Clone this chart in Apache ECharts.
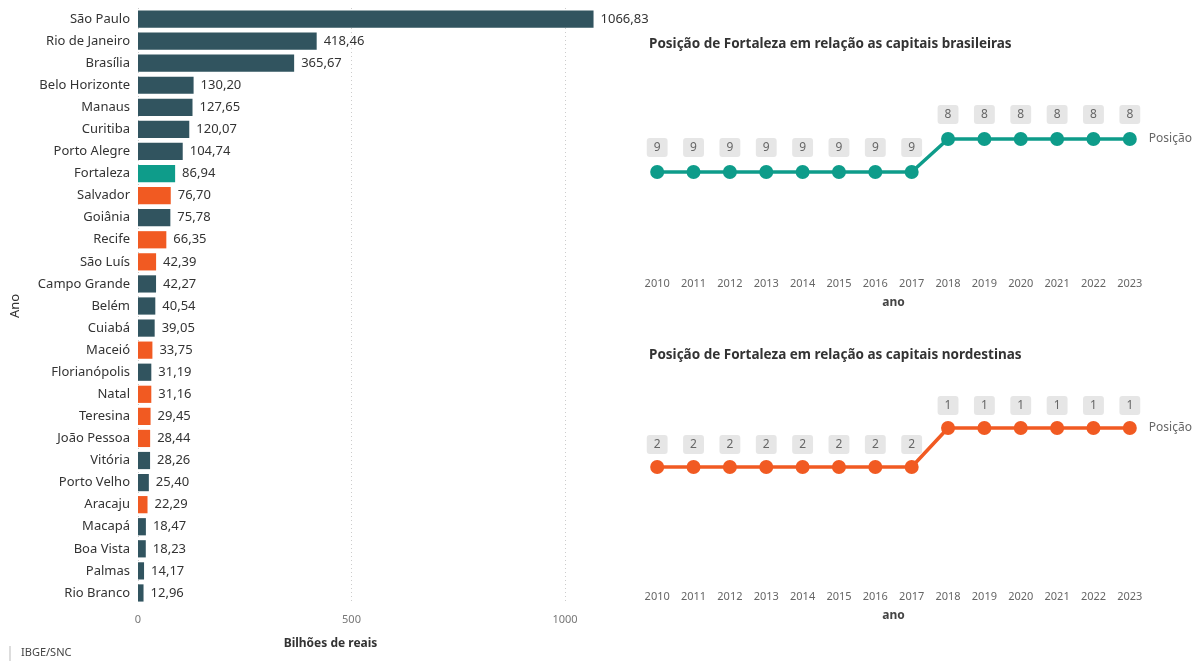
<!DOCTYPE html>
<html><head><meta charset="utf-8">
<script src="https://cdn.jsdelivr.net/npm/echarts@6/dist/echarts.min.js"></script>
<style>html,body{margin:0;padding:0;background:#fff}#c{width:1197px;height:661px}</style>
</head><body><div id="c"></div>
<script>
const cities = ['São Paulo','Rio de Janeiro','Brasília','Belo Horizonte','Manaus','Curitiba','Porto Alegre','Fortaleza','Salvador','Goiânia','Recife','São Luís','Campo Grande','Belém','Cuiabá','Maceió','Florianópolis','Natal','Teresina','João Pessoa','Vitória','Porto Velho','Aracaju','Macapá','Boa Vista','Palmas','Rio Branco'];
const pib = [1066.83,418.46,365.67,130.20,127.65,120.07,104.74,86.94,76.70,75.78,66.35,42.39,42.27,40.54,39.05,33.75,31.19,31.16,29.45,28.44,28.26,25.40,22.29,18.47,18.23,14.17,12.96];
const region = ['outra','outra','outra','outra','outra','outra','outra','fortaleza','nordeste','outra','nordeste','nordeste','outra','outra','outra','nordeste','outra','nordeste','nordeste','nordeste','outra','outra','nordeste','outra','outra','outra','outra'];
const years = ['2010','2011','2012','2013','2014','2015','2016','2017','2018','2019','2020','2021','2022','2023'];
const rankBrasil = [9,9,9,9,9,9,9,9,8,8,8,8,8,8];
const rankNordeste = [2,2,2,2,2,2,2,2,1,1,1,1,1,1];
const xTicks = [0,500,1000];

const colors = {outra:'#31545F', fortaleza:'#0E9C8A', nordeste:'#F15A22'};
const FONT = '"Noto Sans", "Open Sans", sans-serif';
const fmt = v => v.toFixed(2).replace('.', ',');

const lineLabel = (dist) => ({
  show:true, position:'top', distance:dist, color:'#666', fontSize:12, fontFamily:FONT,
  backgroundColor:'#E6E6E6', padding:[4,7,3,7], borderRadius:3
});
const endLabel = {show:true, formatter:'Posição', color:'#666', fontSize:12, fontFamily:FONT, distance:19};
const catX = (gi) => ({
  type:'category', gridIndex:gi, data:years, boundaryGap:true,
  axisLine:{show:false}, axisTick:{show:false},
  axisLabel:{color:'#666', fontSize:11, fontFamily:FONT, margin:7},
  name:'ano', nameLocation:'middle', nameGap:26,
  nameTextStyle:{color:'#444', fontSize:12, fontWeight:'bold', fontFamily:FONT}
});

const chart = echarts.init(document.getElementById('c'));
chart.setOption({
  animation:false,
  textStyle:{fontFamily:FONT},
  title:[
    {text:'Posição de Fortaleza em relação as capitais brasileiras', left:644, top:32,
     textStyle:{fontSize:13.5, fontWeight:'bold', color:'#333', fontFamily:FONT}},
    {text:'Posição de Fortaleza em relação as capitais nordestinas', left:644, top:343,
     textStyle:{fontSize:13.5, fontWeight:'bold', color:'#333', fontFamily:FONT}}
  ],
  grid:[
    {left:138, top:8, width:427, height:596},
    {left:639, top:106, width:509, height:165},
    {left:639, top:389, width:509, height:195}
  ],
  xAxis:[
    {type:'value', gridIndex:0, min:0, max:1000, interval:500,
     axisLine:{show:false}, axisTick:{show:false},
     axisLabel:{color:'#777', fontSize:11, margin:10, fontFamily:FONT,
       formatter: v => xTicks.includes(v) ? String(v) : ''},
     splitLine:{show:true, lineStyle:{type:[1,3], color:'#ccc'}},
     name:'Bilhões de reais', nameLocation:'middle', nameGap:34,
     nameTextStyle:{color:'#333', fontSize:12, fontWeight:'bold', fontFamily:FONT, padding:[0,42,0,0]}},
    catX(1), catX(2)
  ],
  yAxis:[
    {type:'category', gridIndex:0, data:cities, inverse:true,
     axisLine:{show:false}, axisTick:{show:false},
     axisLabel:{color:'#333', fontSize:13, margin:8, fontFamily:FONT},
     name:'Ano', nameLocation:'middle', nameGap:116, nameRotate:90,
     nameTextStyle:{color:'#333', fontSize:13, fontFamily:FONT}},
    {type:'value', gridIndex:1, min:7, max:12, inverse:true, show:false},
    {type:'value', gridIndex:2, min:0, max:5, inverse:true, show:false}
  ],
  series:[
    {type:'bar', xAxisIndex:0, yAxisIndex:0, data:pib, barCategoryGap:'22%', clip:false,
     itemStyle:{color: p => colors[region[p.dataIndex]]},
     label:{show:true, position:'right', distance:7, color:'#333', fontSize:13, fontFamily:FONT,
       formatter: p => fmt(p.value)}},
    {type:'line', xAxisIndex:1, yAxisIndex:1, data:rankBrasil, symbol:'circle', symbolSize:14,
     lineStyle:{width:3.5, color:'#0E9C8A'}, itemStyle:{color:'#0E9C8A'},
     label:lineLabel(8), endLabel:endLabel},
    {type:'line', xAxisIndex:2, yAxisIndex:2, data:rankNordeste, symbol:'circle', symbolSize:14,
     lineStyle:{width:3.5, color:'#F15A22'}, itemStyle:{color:'#F15A22'},
     label:lineLabel(6), endLabel:endLabel}
  ],
  graphic:[
    {type:'line', shape:{x1:10, y1:646, x2:10, y2:661}, style:{stroke:'#bbb', lineWidth:1}},
    {type:'text', left:21, top:647, style:{text:'IBGE/SNC', fill:'#444', fontSize:11, fontFamily:FONT}}
  ]
});
</script></body></html>
